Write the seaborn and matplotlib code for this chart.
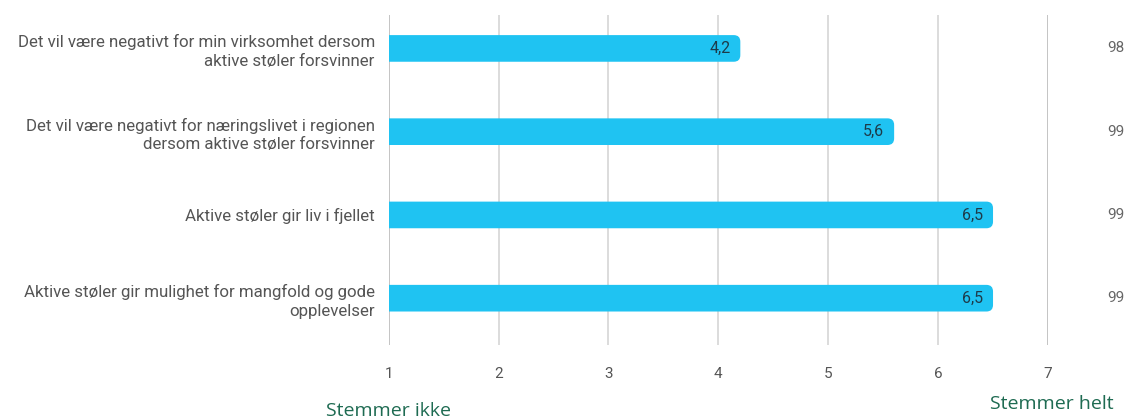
import matplotlib.pyplot as plt
import pandas as pd
import seaborn as sns
from matplotlib.patches import FancyBboxPatch

statements = [
    "Det vil være negativt for min virksomhet dersom\naktive støler forsvinner",
    "Det vil være negativt for næringslivet i regionen\ndersom aktive støler forsvinner",
    "Aktive støler gir liv i fjellet",
    "Aktive støler gir mulighet for mangfold og gode\nopplevelser",
]
means = [4.2, 5.6, 6.5, 6.5]
counts = [98, 99, 99, 99]
x_ticks = [1, 2, 3, 4, 5, 6, 7]

df = pd.DataFrame({"statement": statements, "mean": means, "n": counts})

sns.set_theme(style="white")
plt.rcParams["font.family"] = ["Roboto", "DejaVu Sans"]

fig = plt.figure(figsize=(11.3, 4.2), dpi=100)
ax = fig.add_axes([0.344, 0.179, 0.5834, 0.785])

sns.barplot(data=df, y="statement", x="mean", color="#1FC3F2", saturation=1,
            width=0.32, orient="h", ax=ax, zorder=3)

# round the right-hand end of each bar
for p in list(ax.patches):
    x0, y0 = p.get_x(), p.get_y()
    w, h = p.get_width(), p.get_height()
    rb = FancyBboxPatch((x0, y0), w, h, boxstyle="round,pad=0,rounding_size=0.06",
                        mutation_aspect=1.32, facecolor=p.get_facecolor(),
                        edgecolor="none", zorder=3, clip_on=True)
    p.remove()
    ax.add_patch(rb)

for i, v in enumerate(df["mean"]):
    ax.text(v - 0.09, i, f"{v:.1f}".replace(".", ","), ha="right", va="center",
            fontsize=11.5, color="#1d3b4a", zorder=4)

for i, n in enumerate(df["n"]):
    ax.text(1.103, i, str(n), transform=ax.get_yaxis_transform(), ha="center",
            va="center", fontsize=11, color="#666666")

ax.set_xlim(1, 7)
ax.set_ylim(3.56, -0.4)
ax.set_xticks(x_ticks)
ax.set_xticklabels([str(t) for t in x_ticks], fontsize=11, color="#555555")
ax.tick_params(axis="x", length=0, pad=16)
ax.tick_params(axis="y", length=0, pad=10)
for lab in ax.get_yticklabels():
    lab.set_fontsize(12.2)
    lab.set_color("#555555")
    lab.set_linespacing(1.3)
ax.set_xlabel("")
ax.set_ylabel("")

for t in x_ticks:
    ax.axvline(t, color="#bfbfbf" if t in (1, 7) else "#d9d9d9", lw=1.3, zorder=1)
for s in ax.spines.values():
    s.set_visible(False)

fig.text(389 / 1130, 1 - 411 / 420, "Stemmer ikke", ha="center", va="center",
         fontsize=14, color="#1e6b52", family=["Open Sans", "DejaVu Sans"])
fig.text(1052 / 1130, 1 - 404 / 420, "Stemmer helt", ha="center", va="center",
         fontsize=14, color="#1e6b52", family=["Open Sans", "DejaVu Sans"])

fig.savefig("out.png", dpi=100)
